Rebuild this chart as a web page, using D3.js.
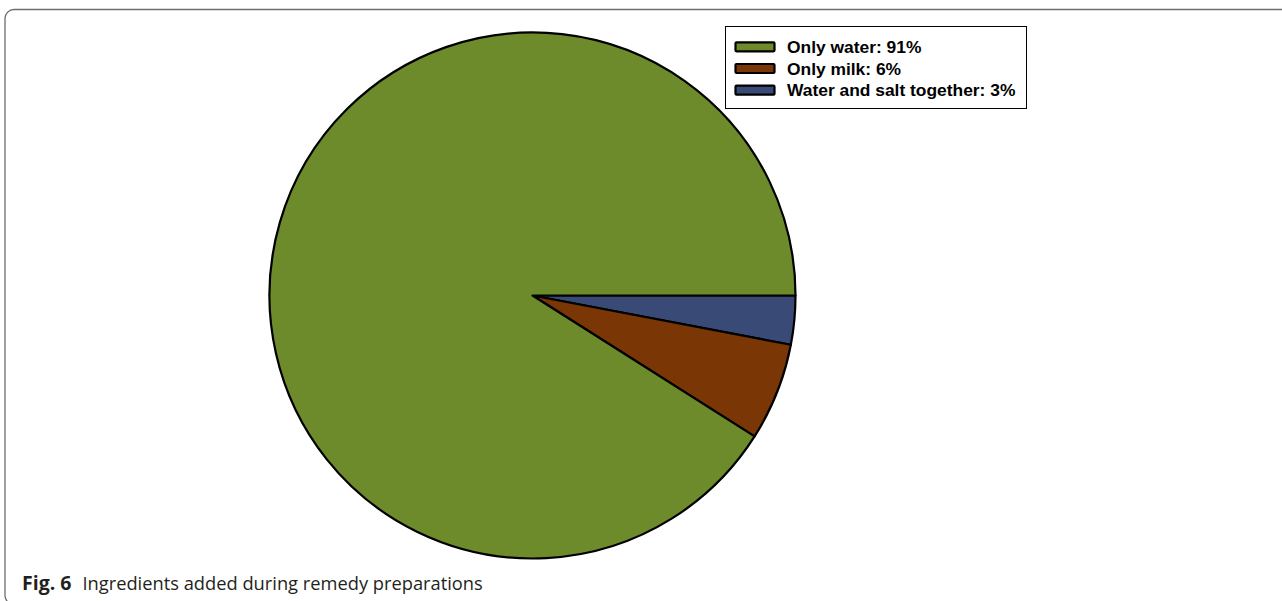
<!DOCTYPE html>
<html><head><meta charset="utf-8">
<script src="https://cdn.jsdelivr.net/npm/d3@7"></script>
<style>body{margin:0;background:#fff;}svg{display:block;}</style>
</head><body>
<svg id="chart" width="1282" height="601"></svg>
<script>
const categories = ["Water and salt together", "Only milk", "Only water"];
const values = [3, 6, 91];
const colors = ["#3a4a77", "#7a3604", "#6e8b2c"];
const legendOrder = ["Only water", "Only milk", "Water and salt together"];
const captionBold = "Fig. 6";
const captionText = "Ingredients added during remedy preparations";

const svg = d3.select("#chart");

// frame
svg.append("rect").attr("x",5).attr("y",9.5).attr("width",1320).attr("height",595)
  .attr("rx",9).attr("fill","none").attr("stroke","#6d6d6d").attr("stroke-width",1.3);

const cx = 532.5, cy = 295.5, r = 263;
const data = categories.map((c,i)=>({cat:c, value:values[i], color:colors[i]}));
const pie = d3.pie().sort(null).value(d=>d.value)
  .startAngle(Math.PI/2).endAngle(Math.PI/2 + 2*Math.PI);
const arc = d3.arc().innerRadius(0).outerRadius(r);
const g = svg.append("g").attr("transform",`translate(${cx},${cy})`);
g.selectAll("path").data(pie(data)).join("path")
  .attr("d",arc).attr("fill",d=>d.data.color)
  .attr("stroke","#000").attr("stroke-width",2.2).attr("stroke-linejoin","round");

// legend
const lg = svg.append("g");
lg.append("rect").attr("x",725.5).attr("y",26.5).attr("width",301).attr("height",82)
  .attr("fill","#fff").attr("stroke","#000").attr("stroke-width",1);
const y = d3.scaleBand().domain(legendOrder).range([36,101]).padding(0);
legendOrder.forEach(name=>{
  const d = data.find(e=>e.cat===name);
  const yc = y(name) + y.bandwidth()/2;
  lg.append("rect").attr("x",735.5).attr("y",yc-4.5).attr("width",39).attr("height",9)
    .attr("fill",d.color).attr("stroke","#000").attr("stroke-width",2.2).attr("rx",1);
  lg.append("text").attr("x",787).attr("y",yc).attr("dy","0.35em")
    .attr("font-family","Liberation Sans, Arial, sans-serif").attr("font-weight","bold")
    .attr("font-size",17.4).attr("fill","#000")
    .text(`${name}: ${d.value}%`);
});

// caption
const cap = svg.append("text").attr("x",22).attr("y",590)
  .attr("font-family","Open Sans, Noto Sans, sans-serif").attr("font-size",18.3).attr("fill","#231f20");
cap.append("tspan").attr("font-weight","bold").attr("font-size",19.5).text(captionBold);
cap.append("tspan").attr("dx",11).text(captionText);
</script>
</body></html>
